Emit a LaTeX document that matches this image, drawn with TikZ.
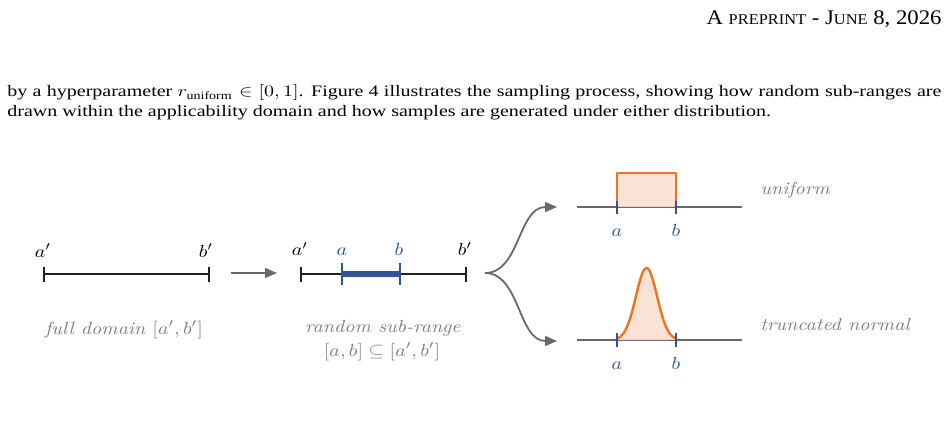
\documentclass[tikz,border=0pt]{standalone}
\usepackage{fontspec}
\usepackage{amsmath}
\usepackage{graphicx}
\newfontfamily\timesf{Liberation Serif}
\usetikzlibrary{arrows.meta}
\definecolor{ornge}{RGB}{240,115,35}
\definecolor{ofill}{RGB}{250,222,205}
\definecolor{bblue}{RGB}{47,85,151}
\definecolor{gtext}{RGB}{128,128,128}
\definecolor{gline}{RGB}{105,105,105}
\definecolor{blk}{RGB}{34,34,34}
\newcommand{\sq}[1]{\scalebox{1}[0.88]{#1}}
\newcommand{\sqb}[1]{\scalebox{1}[0.8]{#1}}
\begin{document}
\begin{tikzpicture}[x=0.5pt,y=-0.5pt,
  lbl/.style={anchor=base, inner sep=0pt},
  gtxt/.style={text=gtext},
  btxt/.style={text=bblue},
  blkline/.style={draw=blk, line width=1.1pt},
  bline/.style={draw=bblue, line width=2.6pt},
  btick/.style={draw=bblue, line width=1pt},
  axis/.style={draw=gline, line width=0.9pt},
  oline/.style={draw=ornge, line width=1.2pt, line join=round},
  garrow/.style={draw=gline, line width=0.9pt, -{Triangle[length=6pt,width=5pt]}, fill=none}]
\useasboundingbox (0,0) rectangle (948,444);
\fill[white] (0,0) rectangle (948,444);

% header and body text
\node[anchor=base east, inner sep=0pt] (hdr) at (942,25)
  {\resizebox{117.5pt}{6.9pt}{\timesf A {\fontsize{7.2}{8}\selectfont PREPRINT} - J{\fontsize{7.2}{8}\selectfont UNE} 8, 2026}};
\node[anchor=base west, inner sep=0pt] (line1) at (7,97)
  {\sqb{\timesf\makebox[467pt][s]{by a hyperparameter $r_{\text{\timesf uniform}}\in[0,1]$. Figure 4 illustrates the sampling process, showing how random sub-ranges are}}};
\node[anchor=base west, inner sep=0pt] (line2) at (7,117)
  {\sqb{\timesf drawn within the applicability domain and how samples are generated under either distribution.}};

% full domain
\coordinate (L1) at (44,274);
\coordinate (L2) at (209,274);
\draw[blkline] (L1) -- (L2);
\draw[blkline] (L1) ++(0,-7.5) -- ++(0,15);
\draw[blkline] (L2) ++(0,-7.5) -- ++(0,15);
\node[lbl] (la1) at (43,257) {\sq{$a'$}};
\node[lbl] (lb1) at (206,257) {\sq{$b'$}};
\node[lbl,gtxt] (fd) at (124,334) {\sq{\textit{full domain} $[a',b']$}};

% arrow
\coordinate (A1s) at (231,273);
\coordinate (A1e) at (277,273);
\draw[garrow] (A1s) -- (A1e);

% sub-range
\coordinate (M1) at (301,274);
\coordinate (M2) at (466,274);
\coordinate (Ma) at (342,274);
\coordinate (Mb) at (400,274);
\draw[blkline] (M1) -- (M2);
\draw[blkline] (M1) ++(0,-7.5) -- ++(0,15);
\draw[blkline] (M2) ++(0,-7.5) -- ++(0,15);
\draw[bline] (Ma) -- (Mb);
\draw[btick] (Ma) ++(0,-11) -- ++(0,22);
\draw[btick] (Mb) ++(0,-11) -- ++(0,22);
\node[lbl] (la2) at (300,256) {\sq{$a'$}};
\node[lbl,btxt] (lam) at (342,255) {\sq{$a$}};
\node[lbl,btxt] (lbm) at (399,255) {\sq{$b$}};
\node[lbl] (lb2) at (465,256) {\sq{$b'$}};
\node[lbl,gtxt] (sr1) at (383,332) {\sq{\textit{random sub-range}}};
\node[lbl,gtxt] (sr2) at (382,356) {\sq{$[a,b]\subseteq[a',b']$}};

% branching arrows
\coordinate (S) at (485,273);
\coordinate (U) at (557,207);
\coordinate (T) at (557,341);
\draw[garrow] (S) .. controls (520,273) and (518,207) .. (U);
\draw[garrow] (S) .. controls (520,273) and (518,341) .. (T);

% uniform
\coordinate (UA1) at (577,207);
\coordinate (UA2) at (742,207);
\draw[axis] (UA1) -- (UA2);
\fill[ofill, opacity=0.85] (617,173) rectangle (676,207);
\draw[oline] (617,207) -- (617,173) -- (676,173) -- (676,207);
\draw[btick] (617,201) -- (617,214);
\draw[btick] (676,201) -- (676,214);
\node[lbl,btxt] (ua) at (617,236) {\sq{$a$}};
\node[lbl,btxt] (ub) at (676,236) {\sq{$b$}};
\node[anchor=base west, inner sep=0pt, gtxt] (unif) at (760,194) {\sq{\textit{uniform}}};

% truncated normal
\coordinate (TA1) at (577,340);
\coordinate (TA2) at (742,340);
\draw[axis] (TA1) -- (TA2);
\fill[ofill, opacity=0.85] plot[domain=617:676, samples=90, smooth] (\x,{340-72*exp(-((\x-646.5)*(\x-646.5))/224.7)}) -- (676,340) -- (617,340) -- cycle;
\draw[oline] plot[domain=617:676, samples=90, smooth] (\x,{340-72*exp(-((\x-646.5)*(\x-646.5))/224.7)});
\draw[btick] (617,333) -- (617,347);
\draw[btick] (676,333) -- (676,347);
\node[lbl,btxt] (ta) at (617,369) {\sq{$a$}};
\node[lbl,btxt] (tb) at (676,369) {\sq{$b$}};
\node[anchor=base west, inner sep=0pt, gtxt] (tn) at (760,330) {\sq{\textit{truncated normal}}};
\end{tikzpicture}
\end{document}
